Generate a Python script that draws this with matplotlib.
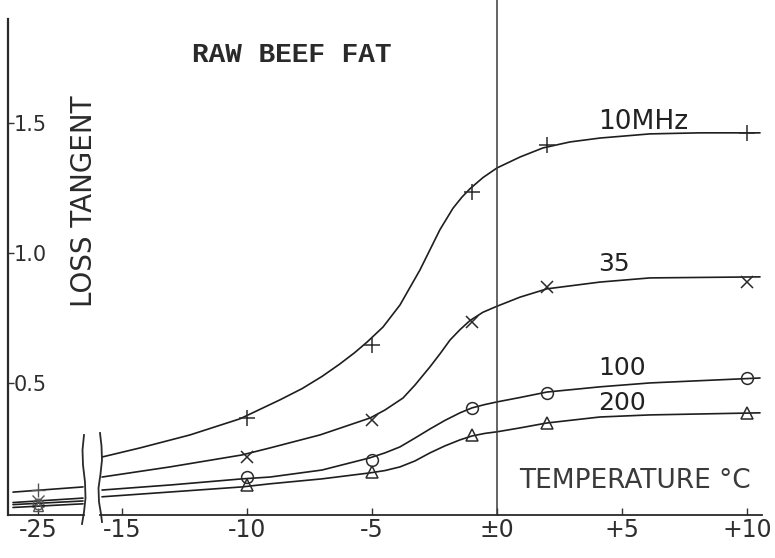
import matplotlib
matplotlib.use('Agg')
import matplotlib.pyplot as plt
from matplotlib.lines import Line2D

plt.rcParams['font.family'] = ['DejaVu Sans']

# ---------------- data ----------------
series_names = ['10MHz', '35', '100', '200']

# measured points (main section)
marker_temps = [-10, -5, -1, 2, 10]
marker_10 = [0.365, 0.646, 1.235, 1.415, 1.46]
marker_35 = [0.215, 0.358, 0.735, 0.87, 0.888]
marker_100 = [0.138, 0.204, 0.404, 0.46, 0.52]
marker_200 = [0.108, 0.158, 0.30, 0.346, 0.385]

# measured points at -25 (broken section)
far_temp = -25
far_vals = [0.09, 0.045, 0.035, 0.025]

# hand-drawn curves
curve_t_10 = [-15.8, -14.28, -12.28, -10.28, -8.68, -7.8, -7.0, -6.3, -5.7,
              -5.2, -4.56, -3.88, -3.08, -2.28, -1.76, -1.4, -1.08, -0.56, 0,
              0.92, 1.84, 2.92, 4.12, 6.12, 8.12, 10.52]
curve_v_10 = [0.215, 0.25, 0.30, 0.362, 0.435, 0.478, 0.525, 0.572, 0.616,
              0.657, 0.715, 0.80, 0.935, 1.09, 1.172, 1.215, 1.247, 1.29,
              1.327, 1.369, 1.404, 1.427, 1.442, 1.458, 1.462, 1.462]
curve_t_35 = [-15.8, -13.08, -10.2, -9.08, -7.08, -5.08, -4.48, -3.76, -3.28,
              -2.68, -2.28, -1.88, -1.48, -1.08, -0.56, 0, 0.92, 2.0, 4.12,
              6.12, 10.52]
curve_v_35 = [0.138, 0.177, 0.223, 0.25, 0.30, 0.365, 0.396, 0.442, 0.492,
              0.562, 0.612, 0.665, 0.705, 0.74, 0.772, 0.795, 0.83, 0.862,
              0.888, 0.904, 0.908]
curve_t_100 = [-15.8, -13.0, -10.2, -9.08, -7.0, -5.08, -4.48, -3.88, -3.28,
               -2.68, -2.08, -1.48, -1.0, -0.48, 0, 0.92, 2.0, 4.12, 6.12,
               10.52]
curve_v_100 = [0.088, 0.108, 0.131, 0.138, 0.165, 0.212, 0.231, 0.254, 0.288,
               0.323, 0.356, 0.385, 0.404, 0.417, 0.427, 0.444, 0.465, 0.485,
               0.50, 0.519]
curve_t_200 = [-15.8, -13.0, -10.2, -9.08, -7.0, -5.08, -4.48, -3.88, -3.28,
               -2.68, -2.08, -1.48, -1.0, -0.48, 0, 0.92, 2.0, 4.12, 6.12,
               10.52]
curve_v_200 = [0.062, 0.081, 0.10, 0.112, 0.131, 0.154, 0.163, 0.177, 0.20,
               0.231, 0.258, 0.281, 0.296, 0.306, 0.312, 0.327, 0.346, 0.369,
               0.377, 0.385]

# curves in the broken (-25) section
left_t = [-26.0, -23.2]
left_v_10 = [0.08, 0.10]
left_v_35 = [0.040, 0.057]
left_v_100 = [0.032, 0.046]
left_v_200 = [0.021, 0.035]

main_ticks = [-15, -10, -5, 0, 5, 10]
main_tick_labels = ['-15', '-10', '-5', '±0', '+5', '+10']
far_ticks = [-25]
far_tick_labels = ['-25']
y_ticks = [0.5, 1.0, 1.5]
y_tick_labels = ['0.5', '1.0', '1.5']

# ---------------- figure ----------------
W, H = 775, 558
fig = plt.figure(figsize=(W / 100, H / 100), dpi=100)
fig.patch.set_facecolor('white')

ax_bottom = (H - 515) / H
ax_height = 515 / H
ax1 = fig.add_axes([8 / W, ax_bottom, (84 - 8) / W, ax_height])
ax2 = fig.add_axes([100 / W, ax_bottom, (765 - 100) / W, ax_height])

ylim = (-0.008, 1.973)
ax1.set_xlim(-26.2, -23.16)
ax2.set_xlim(-15.88, 10.72)
for ax in (ax1, ax2):
    ax.set_ylim(*ylim)
    ax.set_facecolor('none')
    ax.spines['top'].set_visible(False)
    ax.spines['right'].set_visible(False)
    ax.spines['bottom'].set_color('#2a2a2a')
    ax.spines['bottom'].set_linewidth(1.3)

ax2.spines['left'].set_visible(False)
ax2.spines['bottom'].set_bounds(-15.88, 10.6)
ax1.spines['left'].set_color('#2a2a2a')
ax1.spines['left'].set_linewidth(1.6)
ax1.spines['left'].set_bounds(ylim[0], 1.9)

line_kw = dict(color='#1e1e1e', lw=1.2, solid_capstyle='round',
               solid_joinstyle='round')
mk = ['+', 'x', 'o', '^']
mks = [11, 9, 8.5, 8.5]

curves = [(curve_t_10, curve_v_10), (curve_t_35, curve_v_35),
          (curve_t_100, curve_v_100), (curve_t_200, curve_v_200)]
markers = [marker_10, marker_35, marker_100, marker_200]
lefts = [left_v_10, left_v_35, left_v_100, left_v_200]

for i in range(4):
    ct, cv = curves[i]
    ax2.plot(ct, cv, **line_kw)
    ax2.plot(marker_temps, markers[i], linestyle='none', marker=mk[i],
             markersize=mks[i], markerfacecolor='none',
             markeredgecolor='#2a2a2a', markeredgewidth=1.1)
    ax1.plot(left_t, lefts[i], **line_kw)
    ax1.plot([far_temp], [far_vals[i]], linestyle='none', marker=mk[i],
             markersize=mks[i] * 0.9, markerfacecolor='none',
             markeredgecolor='#555555', markeredgewidth=1.0)

ax2.axvline(0, color='#3a3a3a', lw=1.1)

# ticks
ax2.set_yticks([])
ax2.set_xticks(main_ticks)
ax2.set_xticklabels(main_tick_labels)
ax1.set_xticks(far_ticks)
ax1.set_xticklabels(far_tick_labels)
for ax in (ax1, ax2):
    ax.tick_params(axis='x', direction='in', length=5, width=1.0,
                   color='#333333', labelsize=17, labelcolor='#2e2e2e', pad=2)

ax1.set_yticks(y_ticks)
ax1.set_yticklabels(y_tick_labels)
ax1.tick_params(axis='y', direction='in', length=4, width=1.0,
                color='#333333', labelsize=15, labelcolor='#2e2e2e', pad=-4)
for lbl in ax1.get_yticklabels():
    lbl.set_horizontalalignment('left')

# texts
ax2.text(-8.2, 1.76, 'RAW BEEF FAT', ha='center', va='center',
         fontsize=20, fontweight='bold',
         family=['Liberation Mono', 'DejaVu Sans Mono'], color='#2a2a2a')
fig.text(84 / W, 1 - 201 / H, 'LOSS TANGENT', rotation=90, ha='center',
         va='center', fontsize=20, color='#2a2a2a')
label_t = 4.04
ax2.text(label_t, 1.505, series_names[0], ha='left', va='center', fontsize=19,
         color='#222222')
ax2.text(label_t, 0.958, series_names[1], ha='left', va='center', fontsize=18,
         color='#222222')
ax2.text(label_t, 0.558, series_names[2], ha='left', va='center', fontsize=18,
         color='#222222')
ax2.text(label_t, 0.423, series_names[3], ha='left', va='center', fontsize=18,
         color='#222222')
ax2.text(5.5, 0.123, 'TEMPERATURE °C', ha='center', va='center',
         fontsize=19, color='#3a3a3a')

# axis-break marks (decoration)
def squiggle(px, py):
    return Line2D([x / W for x in px], [1 - y / H for y in py],
                  transform=fig.transFigure, color='#2a2a2a', lw=1.3,
                  solid_joinstyle='round')

fig.add_artist(squiggle([84, 82.5, 83, 85, 85.5, 84, 82],
                        [435, 450, 465, 482, 498, 512, 524]))
fig.add_artist(squiggle([100, 101.5, 102, 100.5, 98.5, 99, 101, 102],
                        [433, 446, 460, 474, 488, 502, 514, 522]))

fig.savefig('out.png', dpi=100, facecolor='white')
